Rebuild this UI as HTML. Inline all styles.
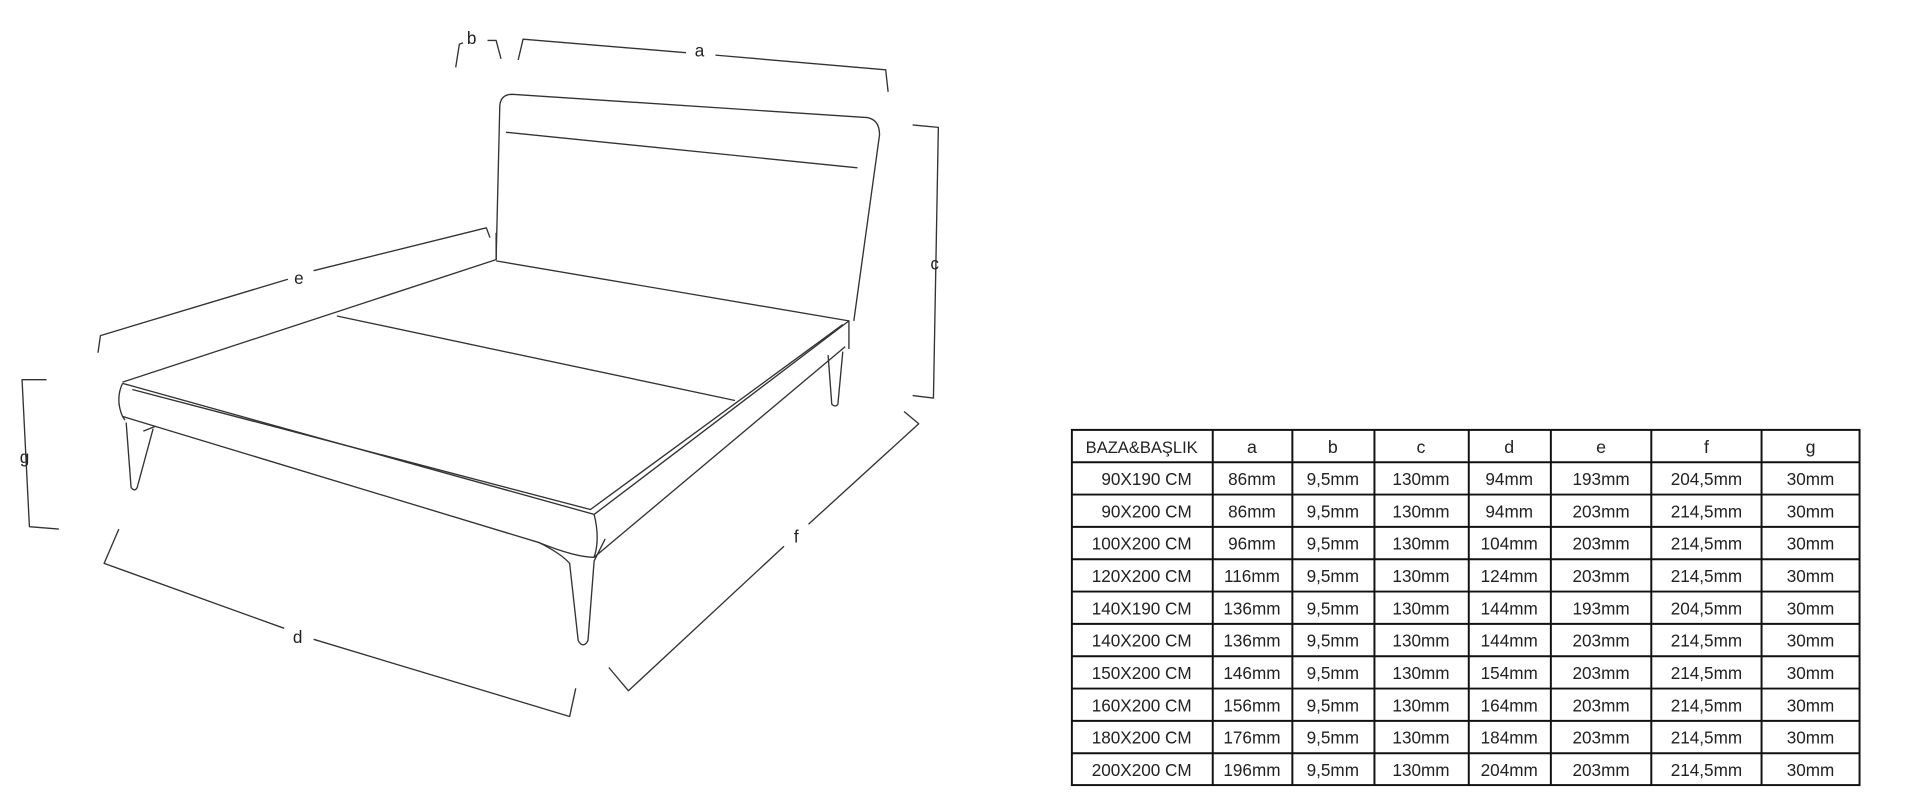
<!DOCTYPE html>
<html><head><style>
html,body{margin:0;padding:0;background:#fff;}
svg{display:block;}
</style></head><body>
<svg width="1911" height="801" viewBox="0 0 1560 654" preserveAspectRatio="none" xmlns="http://www.w3.org/2000/svg">
<g fill="none" stroke="#333" stroke-width="1.1" stroke-linejoin="round">
<!-- headboard -->
<path d="M405,212 L408,86 Q409,77 418,77 L708,96 Q718,98 718,110 L697,262"/>
<path d="M413,108 L700,137"/>
<!-- base top -->
<path d="M405,213 L693,262"/>
<path d="M405,190 L405,212 L100,312"/>
<path d="M275,258 L600,327"/>
<path d="M100,313 L485,420 L693,262 L693,285"/>
<path d="M108,318 L482,416 L688,265"/>
<path d="M100,313 Q94,326 100,340 L440,443 Q470,455 485,455 Q490,440 485,420"/>
<path d="M485,455 L690,283"/>
<path d="M100,340 L102,343"/>
<!-- legs -->
<path d="M103,345 L107,398 Q110,402 112,398 L125,350"/>
<path d="M117,352 L127,348"/>
<path d="M440,443 Q458,452 465,460 L472,523 Q476,530 480,523 L485,458 L494,440"/>
<path d="M676,290 L679,330 Q682,333 684,330 L688,287"/>
<!-- dimension lines -->
<path d="M372,55 L375,36 L378,35"/>
<path d="M398,33 L405,33 L409,48"/>
<path d="M423,49 L427,32 L560,43"/>
<path d="M584,45 L723,57 L725,75"/>
<path d="M745,102 L766,104 L762,325 L745,323"/>
<path d="M80,288 L82,274 L235,228"/>
<path d="M256,221 L397,186 L400,194"/>
<path d="M497,545 L513,564 L640,446"/>
<path d="M660,428 L750,346 L738,336"/>
<path d="M97,432 L85,460 L232,513"/>
<path d="M256,522 L465,585 L470,562"/>
<path d="M38,310 L18,310 L24,430 L48,432"/>
</g>
<g font-family="'Liberation Sans',sans-serif" font-size="14" fill="#222" text-anchor="middle">
<text x="385" y="36">b</text>
<text x="571" y="46">a</text>
<text x="763" y="220">c</text>
<text x="244" y="232">e</text>
<text x="650" y="443">f</text>
<text x="243" y="525">d</text>
<text x="20" y="378">g</text>
</g>
<g stroke="#111" stroke-width="1.6" fill="none">
<rect x="875" y="351" width="643" height="290"/>
<path d="M990,351V641 M1055,351V641 M1122,351V641 M1199,351V641 M1266,351V641 M1348,351V641 M1438,351V641"/>
<path d="M875,377.4H1518 M875,403.8H1518 M875,430.2H1518 M875,456.6H1518 M875,483H1518 M875,509.4H1518 M875,535.8H1518 M875,562.2H1518 M875,588.6H1518 M875,615H1518"/>
</g>
<g font-family="'Liberation Sans',sans-serif" font-size="14.5" fill="#222" text-anchor="middle">
<text x="932" y="370" font-size="13.5">BAZA&amp;BAŞLIK</text><text x="1022" y="370">a</text><text x="1088" y="370">b</text><text x="1160" y="370">c</text><text x="1232" y="370">d</text><text x="1307" y="370">e</text><text x="1393" y="370">f</text><text x="1478" y="370">g</text>
</g>
<g font-family="'Liberation Sans',sans-serif" font-size="14" fill="#222" text-anchor="middle" textLength="1">
<text y="396"><tspan x="936">90X190 CM</tspan><tspan x="1022">86mm</tspan><tspan x="1088">9,5mm</tspan><tspan x="1160">130mm</tspan><tspan x="1232">94mm</tspan><tspan x="1307">193mm</tspan><tspan x="1393">204,5mm</tspan><tspan x="1478">30mm</tspan></text>
<text y="422.4"><tspan x="936">90X200 CM</tspan><tspan x="1022">86mm</tspan><tspan x="1088">9,5mm</tspan><tspan x="1160">130mm</tspan><tspan x="1232">94mm</tspan><tspan x="1307">203mm</tspan><tspan x="1393">214,5mm</tspan><tspan x="1478">30mm</tspan></text>
<text y="448.8"><tspan x="932">100X200 CM</tspan><tspan x="1022">96mm</tspan><tspan x="1088">9,5mm</tspan><tspan x="1160">130mm</tspan><tspan x="1232">104mm</tspan><tspan x="1307">203mm</tspan><tspan x="1393">214,5mm</tspan><tspan x="1478">30mm</tspan></text>
<text y="475.2"><tspan x="932">120X200 CM</tspan><tspan x="1022">116mm</tspan><tspan x="1088">9,5mm</tspan><tspan x="1160">130mm</tspan><tspan x="1232">124mm</tspan><tspan x="1307">203mm</tspan><tspan x="1393">214,5mm</tspan><tspan x="1478">30mm</tspan></text>
<text y="501.6"><tspan x="932">140X190 CM</tspan><tspan x="1022">136mm</tspan><tspan x="1088">9,5mm</tspan><tspan x="1160">130mm</tspan><tspan x="1232">144mm</tspan><tspan x="1307">193mm</tspan><tspan x="1393">204,5mm</tspan><tspan x="1478">30mm</tspan></text>
<text y="528"><tspan x="932">140X200 CM</tspan><tspan x="1022">136mm</tspan><tspan x="1088">9,5mm</tspan><tspan x="1160">130mm</tspan><tspan x="1232">144mm</tspan><tspan x="1307">203mm</tspan><tspan x="1393">214,5mm</tspan><tspan x="1478">30mm</tspan></text>
<text y="554.4"><tspan x="932">150X200 CM</tspan><tspan x="1022">146mm</tspan><tspan x="1088">9,5mm</tspan><tspan x="1160">130mm</tspan><tspan x="1232">154mm</tspan><tspan x="1307">203mm</tspan><tspan x="1393">214,5mm</tspan><tspan x="1478">30mm</tspan></text>
<text y="580.8"><tspan x="932">160X200 CM</tspan><tspan x="1022">156mm</tspan><tspan x="1088">9,5mm</tspan><tspan x="1160">130mm</tspan><tspan x="1232">164mm</tspan><tspan x="1307">203mm</tspan><tspan x="1393">214,5mm</tspan><tspan x="1478">30mm</tspan></text>
<text y="607.2"><tspan x="932">180X200 CM</tspan><tspan x="1022">176mm</tspan><tspan x="1088">9,5mm</tspan><tspan x="1160">130mm</tspan><tspan x="1232">184mm</tspan><tspan x="1307">203mm</tspan><tspan x="1393">214,5mm</tspan><tspan x="1478">30mm</tspan></text>
<text y="633.6"><tspan x="932">200X200 CM</tspan><tspan x="1022">196mm</tspan><tspan x="1088">9,5mm</tspan><tspan x="1160">130mm</tspan><tspan x="1232">204mm</tspan><tspan x="1307">203mm</tspan><tspan x="1393">214,5mm</tspan><tspan x="1478">30mm</tspan></text>
</g>
</svg>
</body></html>
